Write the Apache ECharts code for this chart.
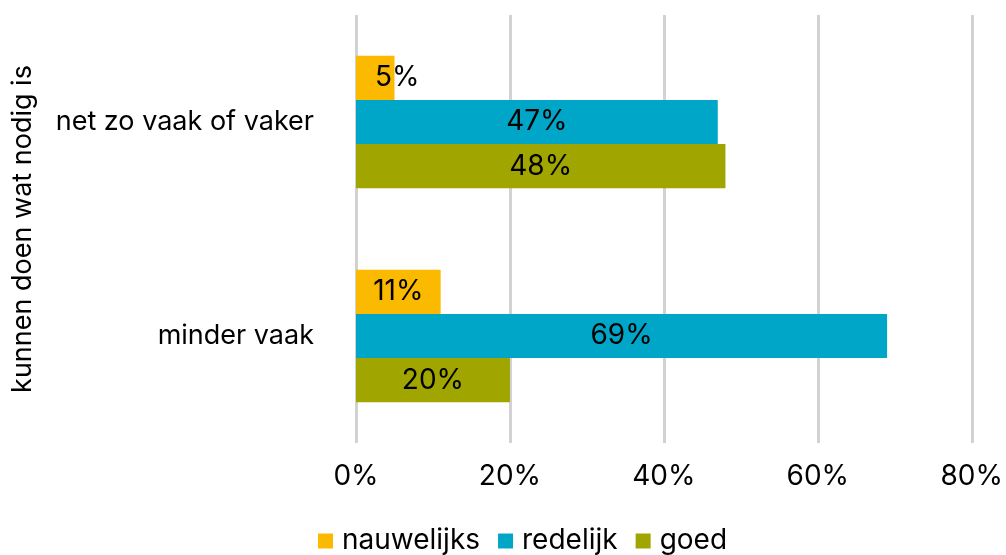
<!DOCTYPE html>
<html>
<head>
<meta charset="utf-8">
<script src="https://cdn.jsdelivr.net/npm/echarts@6/dist/echarts.min.js"></script>
<style>
  html, body { margin: 0; padding: 0; background: #fff; }
  #chart { width: 1006px; height: 555px; }
</style>
</head>
<body>
<div id="chart"></div>
<script>
const categories = ['net zo vaak of vaker', 'minder vaak']
const seriesNames = ['nauwelijks', 'redelijk', 'goed']
const nauwelijks = [5, 11]
const redelijk = [47, 69]
const goed = [48, 20]
const colors = ['#FBBA00', '#00A6C8', '#A0A500']

const myChart = echarts.init(document.getElementById('chart'))
const font = 'Inter, "Noto Sans", sans-serif'

const makeSeries = (name, data, color) => ({
  name: name,
  type: 'bar',
  // small bars: label sticks out to the right like in the original
  data: data.map((v) => (v < 8 ? { value: v, label: { offset: [22, 0] } } : v)),
  barGap: '0%',
  barCategoryGap: '38%',
  itemStyle: { color: color },
  label: {
    show: true,
    position: 'inside',
    color: '#000',
    fontSize: 28,
    fontFamily: font,
    formatter: (p) => p.value + '%',
  },
})

const option = {
  animation: false,
  textStyle: { fontFamily: font },
  grid: { left: 356, right: 33, top: 15, bottom: 112 },
  legend: {
    top: 522,
    left: 313,
    icon: 'rect',
    itemWidth: 15,
    itemHeight: 15,
    itemGap: 18,
    textStyle: { fontSize: 28, color: '#000', fontFamily: font, padding: [0, 0, 0, 4] },
  },
  xAxis: {
    type: 'value',
    min: 0,
    max: 80,
    interval: 20,
    axisLine: { show: false },
    axisTick: { show: false },
    axisLabel: {
      fontSize: 28,
      color: '#000',
      margin: 20,
      formatter: (v) => v + '%',
    },
    splitLine: { lineStyle: { color: '#d2d2d2', width: 3 } },
  },
  yAxis: {
    type: 'category',
    data: categories,
    inverse: true,
    name: 'kunnen doen wat nodig is',
    nameLocation: 'middle',
    nameRotate: 90,
    nameGap: 320,
    nameTextStyle: { fontSize: 27, color: '#000' },
    axisLine: { show: false },
    axisTick: { show: false },
    axisLabel: { fontSize: 27, color: '#000', margin: 42 },
  },
  series: [
    makeSeries(seriesNames[0], nauwelijks, colors[0]),
    makeSeries(seriesNames[1], redelijk, colors[1]),
    makeSeries(seriesNames[2], goed, colors[2]),
  ],
}
myChart.setOption(option)
</script>
</body>
</html>
